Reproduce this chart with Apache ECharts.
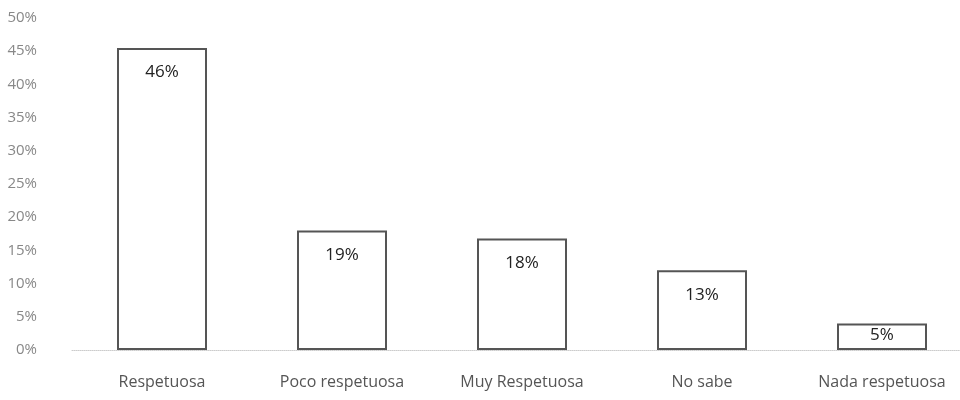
<!DOCTYPE html>
<html><head><meta charset="utf-8">
<script src="https://cdn.jsdelivr.net/npm/echarts@6/dist/echarts.min.js"></script>
<style>html,body{margin:0;padding:0;background:#fff;overflow:hidden;width:960px;height:400px}#c{width:972px;height:400px}</style>
</head><body><div id="c"></div>
<script>
var categories = ["Respetuosa", "Poco respetuosa", "Muy Respetuosa", "No sabe", "Nada respetuosa"];
var values = [45.5, 18, 16.8, 12, 4];
var valueLabels = ["46%", "19%", "18%", "13%", "5%"];
var yTicks = [0, 5, 10, 15, 20, 25, 30, 35, 40, 45, 50];

var seriesData = values.map(function (v) {
  return v < 8 ? { value: v, label: { distance: 3 } } : v;
});

var chart = echarts.init(document.getElementById('c'));
chart.setOption({
  animation: false,
  grid: { left: 72, right: 0, top: 18, bottom: 50 },
  xAxis: {
    type: 'category', data: categories,
    axisLine: { show: true, lineStyle: { color: '#ccc', type: 'dotted' } },
    axisTick: { show: false },
    axisLabel: { color: '#555', fontSize: 16, margin: 24, fontFamily: 'Open Sans' }
  },
  yAxis: {
    type: 'value', min: 0, max: 50, interval: 5,
    axisLine: { show: false }, axisTick: { show: false },
    splitLine: { show: false },
    axisLabel: { color: '#888', fontSize: 15, margin: 35, fontFamily: 'Open Sans',
      formatter: function (v) { return yTicks.indexOf(v) >= 0 ? v + '%' : ''; } }
  },
  series: [{
    type: 'bar', data: seriesData, barWidth: 90,
    itemStyle: { color: '#fff', borderColor: '#555', borderWidth: 2 },
    label: { show: true, position: 'insideTop', distance: 16, color: '#222', fontSize: 17,
      fontFamily: 'Open Sans',
      formatter: function (p) { return valueLabels[p.dataIndex]; } }
  }]
});
</script></body></html>
